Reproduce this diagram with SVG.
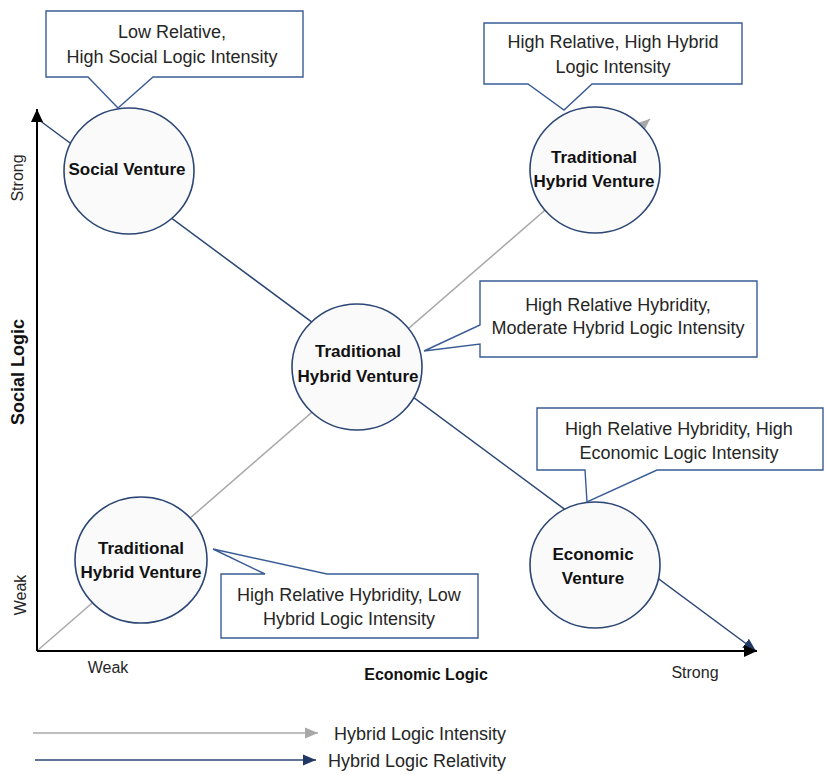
<svg xmlns="http://www.w3.org/2000/svg" width="826" height="774" viewBox="0 0 826 774">
  <style>
    .axis { stroke: #000; stroke-width: 2; fill: none; }
    .relativity { stroke: #2C4675; stroke-width: 1.5; fill: none; }
    .intensity { stroke: #A8A8A8; stroke-width: 1.5; fill: none; }
    .venture { fill: #FAFAFA; stroke: #2C4675; stroke-width: 1.6; }
    .callout { fill: #FFFFFF; stroke: #3A5C96; stroke-width: 1.4; stroke-linejoin: miter; }
    .node-label { font-family: "Liberation Sans", Arial, sans-serif; font-size: 17px; font-weight: bold; fill: #111; text-anchor: middle; }
    .note { font-family: "Liberation Sans", Arial, sans-serif; font-size: 18px; fill: #262626; text-anchor: middle; }
    .tick { font-family: "Liberation Sans", Arial, sans-serif; font-size: 16px; fill: #262626; text-anchor: middle; }
    .axis-title { font-family: "Liberation Sans", Arial, sans-serif; font-weight: bold; fill: #111; text-anchor: middle; }
    .legend { font-family: "Liberation Sans", Arial, sans-serif; font-size: 18px; fill: #262626; }
  </style>
  <defs>
    <marker id="head-black" markerUnits="userSpaceOnUse" markerWidth="14" markerHeight="14" viewBox="0 0 14 14" refX="13" refY="7" orient="auto">
      <path d="M0,1 L13,7 L0,13 Z" fill="#000"/>
    </marker>
    <marker id="head-blue" markerUnits="userSpaceOnUse" markerWidth="14" markerHeight="14" viewBox="0 0 14 14" refX="13" refY="7" orient="auto">
      <path d="M0,1.5 L13,7 L0,12.5 Z" fill="#1F3864"/>
    </marker>
    <marker id="head-gray" markerUnits="userSpaceOnUse" markerWidth="14" markerHeight="14" viewBox="0 0 14 14" refX="13" refY="7" orient="auto">
      <path d="M0,1.5 L13,7 L0,12.5 Z" fill="#A8A8A8"/>
    </marker>
  </defs>

  <rect width="826" height="774" fill="#FFFFFF"/>

  <!-- connectors: intensity diagonal, relativity diagonal -->
  <g id="connectors">
    <line class="intensity" x1="38" y1="650" x2="650" y2="119" marker-end="url(#head-gray)"/>
    <line class="relativity" x1="39" y1="120" x2="756" y2="651" marker-end="url(#head-blue)"/>
  </g>

  <!-- axes -->
  <g id="axes">
    <line class="axis" x1="37" y1="651" x2="37" y2="109" marker-end="url(#head-black)"/>
    <line class="axis" x1="37" y1="651" x2="757" y2="651" marker-end="url(#head-black)"/>
    <text class="tick" transform="translate(23,178) rotate(-90)">Strong</text>
    <text class="tick" transform="translate(26,595) rotate(-90)">Weak</text>
    <text class="axis-title" font-size="18" transform="translate(24,372) rotate(-90)">Social Logic</text>
    <text class="tick" x="108" y="673">Weak</text>
    <text class="axis-title" font-size="16" x="426" y="680">Economic Logic</text>
    <text class="tick" x="695" y="678">Strong</text>
  </g>

  <!-- ventures -->
  <g id="social-venture">
    <ellipse class="venture" cx="129" cy="171" rx="65" ry="63"/>
    <text class="node-label" x="127" y="175">Social Venture</text>
  </g>
  <g id="hybrid-venture-high">
    <ellipse class="venture" cx="595" cy="170" rx="65" ry="63"/>
    <text class="node-label" x="594" y="163">Traditional</text>
    <text class="node-label" x="594" y="187">Hybrid Venture</text>
  </g>
  <g id="hybrid-venture-moderate">
    <ellipse class="venture" cx="357" cy="367" rx="65" ry="63"/>
    <text class="node-label" x="358" y="357">Traditional</text>
    <text class="node-label" x="358" y="382">Hybrid Venture</text>
  </g>
  <g id="hybrid-venture-low">
    <ellipse class="venture" cx="141" cy="560" rx="66" ry="63"/>
    <text class="node-label" x="141" y="554">Traditional</text>
    <text class="node-label" x="141" y="578">Hybrid Venture</text>
  </g>
  <g id="economic-venture">
    <ellipse class="venture" cx="595" cy="565" rx="65" ry="63"/>
    <text class="node-label" x="593" y="560">Economic</text>
    <text class="node-label" x="593" y="584">Venture</text>
  </g>

  <!-- callouts -->
  <g id="callout-social">
    <path class="callout" d="M46,11 H303 V77 H153 L118,108 L88,77 H46 Z"/>
    <text class="note" x="172" y="38">Low Relative,</text>
    <text class="note" x="172" y="63">High Social Logic Intensity</text>
  </g>
  <g id="callout-hybrid-high">
    <path class="callout" d="M484,23 H742 V84 H592 L564,110 L528,84 H484 Z"/>
    <text class="note" x="613" y="48">High Relative, High Hybrid</text>
    <text class="note" x="613" y="73">Logic Intensity</text>
  </g>
  <g id="callout-hybrid-moderate">
    <path class="callout" d="M480,281 H757 V357 H480 V344 L424,351 L480,325 Z"/>
    <text class="note" x="618" y="311">High Relative Hybridity,</text>
    <text class="note" x="618" y="334">Moderate Hybrid Logic Intensity</text>
  </g>
  <g id="callout-hybrid-low">
    <path class="callout" d="M221,574 H265 L213,549 L327,574 H478 V638 H221 Z"/>
    <text class="note" x="349" y="601">High Relative Hybridity, Low</text>
    <text class="note" x="349" y="625">Hybrid Logic Intensity</text>
  </g>
  <g id="callout-economic">
    <path class="callout" d="M537,408 H823 V470 H657 L587,502 L585,470 H537 Z"/>
    <text class="note" x="679" y="435">High Relative Hybridity, High</text>
    <text class="note" x="679" y="459">Economic Logic Intensity</text>
  </g>

  <!-- legend -->
  <g id="legend">
    <line class="intensity" x1="33" y1="733" x2="318" y2="733" marker-end="url(#head-gray)"/>
    <text class="legend" x="334" y="740">Hybrid Logic Intensity</text>
    <line class="relativity" x1="35" y1="760" x2="316" y2="760" marker-end="url(#head-blue)"/>
    <text class="legend" x="328" y="767">Hybrid Logic Relativity</text>
  </g>
</svg>
